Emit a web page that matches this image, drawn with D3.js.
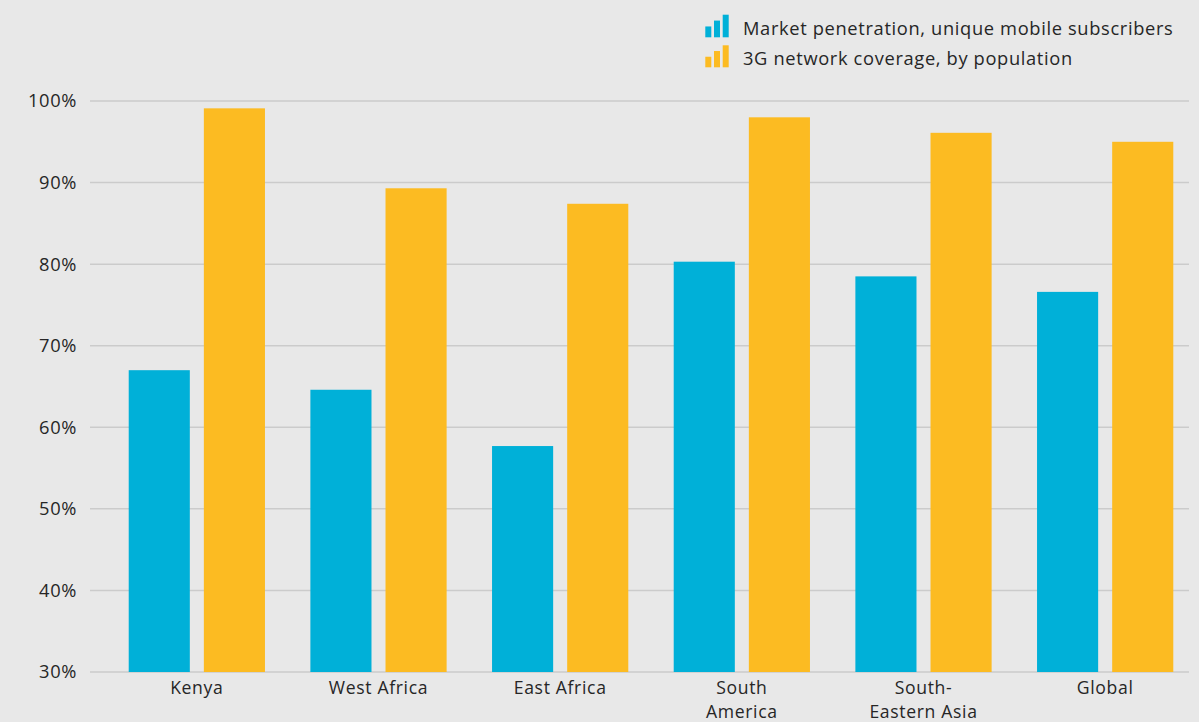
<!DOCTYPE html>
<html>
<head>
<meta charset="utf-8">
<script src="https://cdn.jsdelivr.net/npm/d3@7"></script>
<style>
  html, body { margin: 0; padding: 0; background: #e8e8e8; }
  svg { display: block; }
  text { font-family: "Open Sans", "Noto Sans", sans-serif; fill: #262626; letter-spacing: 0.65px; }
</style>
</head>
<body>
<svg id="chart" width="1199" height="722"></svg>
<script>
const categories = ["Kenya", "West Africa", "East Africa", "South America", "South-Eastern Asia", "Global"];
const categoryLines = [["Kenya"], ["West Africa"], ["East Africa"], ["South", "America"], ["South-", "Eastern Asia"], ["Global"]];
const seriesNames = ["Market penetration, unique mobile subscribers", "3G network coverage, by population"];
const marketPenetration = [67, 64.6, 57.7, 80.3, 78.5, 76.6];
const coverage3G = [99.1, 89.3, 87.4, 98.0, 96.1, 95.0];
const yTicks = [30, 40, 50, 60, 70, 80, 90, 100];
const colors = ["#00b0d8", "#fcbb22"];

const seriesValues = [marketPenetration, coverage3G];
const FS = "18.3px";
const svg = d3.select("#chart");
svg.append("rect").attr("width", 1199).attr("height", 722).attr("fill", "#e8e8e8");

const y = d3.scaleLinear().domain([30, 100]).range([672, 101]);
const x0 = d3.scaleBand().domain(categories).range([106, 1196]).paddingInner(0.25).paddingOuter(0.125);
const x1 = d3.scaleBand().domain(seriesNames).range([0, x0.bandwidth()]).paddingInner(0.1867);

// gridlines
const grid = svg.append("g");
grid.selectAll("line").data(yTicks).join("line")
  .attr("x1", 90).attr("x2", 1189)
  .attr("y1", d => y(d)).attr("y2", d => y(d))
  .attr("stroke", "#cbcbcb").attr("stroke-width", 1.5);

// y axis labels
const yAxis = d3.axisLeft(y).tickValues(yTicks).tickFormat(d => d + "%").tickSize(0).tickPadding(0);
const ya = svg.append("g").attr("transform", "translate(77,0)").call(yAxis);
ya.select(".domain").remove();
ya.selectAll("text").style("font-size", FS).attr("fill", "#262626")
  .style("font-family", '"Open Sans", sans-serif');

// bars
const groups = svg.append("g").selectAll("g").data(categories).join("g")
  .attr("transform", d => `translate(${x0(d)},0)`);
groups.selectAll("rect").data((c, i) => seriesNames.map((s, j) => ({ s, j, v: seriesValues[j][i] })))
  .join("rect")
  .attr("x", d => x1(d.s))
  .attr("width", x1.bandwidth())
  .attr("y", d => y(d.v))
  .attr("height", d => y(30) - y(d.v))
  .attr("fill", d => colors[d.j]);

// x labels
const xl = svg.append("g");
categories.forEach((c, i) => {
  const cx = x0(c) + x0.bandwidth() / 2;
  categoryLines[i].forEach((ln, k) => {
    xl.append("text")
      .attr("x", cx)
      .attr("y", 694 + k * 24)
      .attr("text-anchor", "middle")
      .style("font-size", "17.6px")
      .text(ln);
  });
});

// legend
const iconHeights = [0.48, 0.74, 1];
const leg = svg.append("g");
seriesNames.forEach((s, j) => {
  const top = 14.7 + j * 30.6, bottom = 37.3 + j * 30;
  const hh = bottom - top;
  iconHeights.forEach((h, k) => {
    leg.append("rect")
      .attr("x", 705.3 + k * 8.7).attr("width", 6)
      .attr("y", bottom - hh * h).attr("height", hh * h)
      .attr("fill", colors[j]);
  });
  leg.append("text").attr("x", 743).attr("y", 35 + j * 30)
    .style("font-size", FS).text(s);
});
</script>
</body>
</html>
